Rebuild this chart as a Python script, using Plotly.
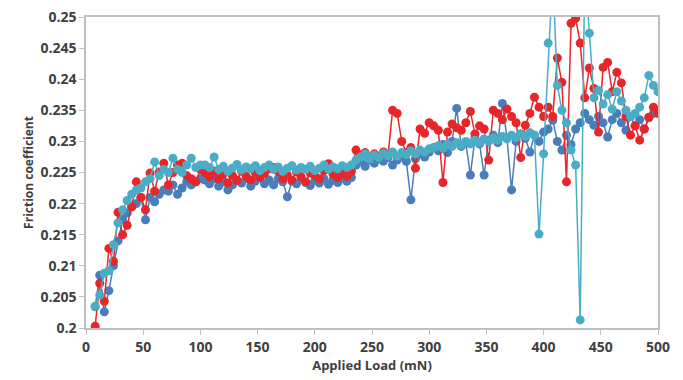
import plotly.graph_objects as go

# Applied load (mN)
load = [8, 12, 16, 20, 24, 28, 32, 36, 40, 44, 48, 52, 56, 60, 64, 68, 72, 76, 80, 84, 88, 92, 96, 100,
        104, 108, 112, 116, 120, 124, 128, 132, 136, 140, 144, 148, 152, 156, 160, 164, 168, 172, 176, 180,
        184, 188, 192, 196, 200, 204, 208, 212, 216, 220, 224, 228,
        232, 236, 240, 244, 248, 252, 256, 260, 264, 268, 272, 276, 280, 284, 288, 292, 296, 300,
        304, 308, 312, 316, 320, 324, 328, 332, 336, 340, 344, 348, 352, 356, 360, 364, 368, 372, 376, 380,
        384, 388, 392, 396, 400,
        404, 408, 412, 416, 420, 424, 428, 432, 436, 440, 444, 448, 452, 456, 460, 464, 468, 472, 476, 480,
        484, 488, 492, 496, 500]

friction_blue = [.2034, .2085, .2026, .2060, .2100, .2140, .2175, .2185, .2195, .2200, .2210, .2174, .2210, .2203, .2215, .2222, .2220, .2230, .2215, .2225, .2235, .2230, .2235, .2240,
                 .2238, .2232, .2240, .2228, .2235, .2222, .2230, .2238, .2233, .2240, .2228, .2236, .2242, .2232, .2238, .2230, .2240, .2235, .2211, .2236,
                 .2232, .2240, .2234, .2229, .2237, .2233, .2240, .2231, .2238, .2234, .2241, .2236,
                 .2242, .2262, .2268, .2260, .2270, .2265, .2272, .2268, .2274, .2262, .2270, .2276, .2268, .2206, .2272, .2280, .2275, .2283,
                 .2290, .2285, .2295, .2282, .2300, .2353, .2292, .2298, .2246, .2305, .2296, .2246, .2302, .2310, .2298, .2361, .2305, .2222, .2300, .2312,
                 .2305, .2283, .2310, .2300, .2315,
                 .2320, .2334, .2300, .2286, .2310, .2295, .2320, .2330, .2345, .2335, .2326, .2340, .2330, .2307, .2335, .2345, .2330, .2318, .2340, .2325,
                 .2335, .2320, .2338, .2345, .2350]

friction_red = [.2003, .2072, .2043, .2128, .2107, .2186, .2150, .2165, .2195, .2235, .2210, .2190, .2249, .2220, .2251, .2265, .2230, .2250, .2262, .2265, .2245, .2240, .2235, .2255,
                .2250, .2243, .2252, .2240, .2248, .2233, .2245, .2237, .2252, .2244, .2238, .2250, .2242, .2248, .2256, .2258, .2252, .2240, .2246, .2238,
                .2251, .2243, .2235, .2249, .2245, .2240, .2253, .2264, .2247, .2242, .2250, .2244,
                .2252, .2286, .2278, .2282, .2273, .2280, .2276, .2283, .2278, .2350, .2345, .2300, .2282, .2290, .2257, .2320, .2313, .2330,
                .2325, .2318, .2234, .2315, .2328, .2322, .2318, .2330, .2348, .2312, .2325, .2320, .2270, .2350, .2345, .2335, .2352, .2340, .2330, .2274,
                .2326, .2345, .2371, .2355, .2340,
                .2355, .2340, .2434, .2395, .2235, .2490, .2498, .2458, .2370, .2418, .2385, .2315, .2419, .2427, .2380, .2411, .2394, .2340, .2310, .2325,
                .2302, .2320, .2339, .2355, .2345]

friction_cyan = [.2035, .2053, .2088, .2092, .2134, .2169, .2190, .2205, .2215, .2222, .2225, .2235, .2240, .2267, .2245, .2255, .2250, .2273, .2255, .2250, .2262, .2273, .2258, .2262,
                 .2262, .2258, .2275, .2255, .2260, .2252, .2257, .2263, .2254, .2259, .2256, .2261, .2253, .2258, .2262, .2255, .2259, .2252, .2257, .2261,
                 .2254, .2258, .2255, .2260, .2253, .2257, .2262, .2255, .2259, .2256, .2261, .2258,
                 .2262, .2270, .2275, .2280, .2272, .2278, .2274, .2281, .2277, .2283, .2276, .2282, .2279, .2285, .2280, .2286, .2283, .2288,
                 .2290, .2293, .2289, .2295, .2292, .2298, .2294, .2300, .2296, .2302, .2298, .2304, .2300, .2306, .2302, .2308, .2304, .2310, .2306, .2312,
                 .2308, .2314, .2310, .2151, .2280,
                 .2458, .2570, .2390, .2350, .2330, .2286, .2262, .2013, .2580, .2474, .2370, .2382, .2360, .2375, .2352, .2380, .2365, .2350, .2340, .2345,
                 .2355, .2370, .2406, .2390, .2380]

x_ticks = [0, 50, 100, 150, 200, 250, 300, 350, 400, 450, 500]
x_tick_labels = ["0", "50", "100", "150", "200", "250", "300", "350", "400", "450", "500"]
y_ticks = [0.2, 0.205, 0.21, 0.215, 0.22, 0.225, 0.23, 0.235, 0.24, 0.245, 0.25]
y_tick_labels = ["0.2", "0.205", "0.21", "0.215", "0.22", "0.225", "0.23", "0.235", "0.24", "0.245", "0.25"]

series = [
    ("Blue", friction_blue, "#4A7EBB"),
    ("Red", friction_red, "#E8262A"),
    ("Cyan", friction_cyan, "#4BACC6"),
]

fig = go.Figure()
for name, vals, col in series:
    fig.add_trace(go.Scatter(
        x=load, y=vals, name=name, mode="lines+markers",
        line=dict(color=col, width=1.5),
        marker=dict(color=col, size=9),
    ))

fig.update_layout(
    width=675, height=372,
    margin=dict(l=78, r=25, t=9, b=52, autoexpand=False),
    paper_bgcolor="white", plot_bgcolor="white",
    showlegend=False,
    font=dict(family="Open Sans", color="#404040"),
)
fig.update_xaxes(
    range=[0, 500], tickvals=x_ticks, ticktext=x_tick_labels,
    showgrid=False, zeroline=False, automargin=False, ticklabeloverflow="allow",
    showline=True, linecolor="#BFBFBF", linewidth=1.5, mirror=True,
    ticks="outside", ticklen=5, tickcolor="#BFBFBF",
    tickfont=dict(family="Open Sans", size=14, color="#404040", weight="bold"),
    title=dict(text="<b>Applied Load (mN)</b>", font=dict(family="Open Sans", size=13, color="#404040"), standoff=4),
)
fig.update_yaxes(
    range=[0.2, 0.25], tickvals=y_ticks, ticktext=y_tick_labels,
    showgrid=False, zeroline=False, automargin=False, ticklabeloverflow="allow",
    showline=True, linecolor="#BFBFBF", linewidth=1.5, mirror=True,
    ticks="outside", ticklen=5, tickcolor="#BFBFBF",
    tickfont=dict(family="Open Sans", size=14, color="#404040", weight="bold"),
    title=dict(text="<b>Friction coefficient</b>", font=dict(family="Open Sans", size=12, color="#404040"), standoff=4),
)

fig.write_html("out.html")
